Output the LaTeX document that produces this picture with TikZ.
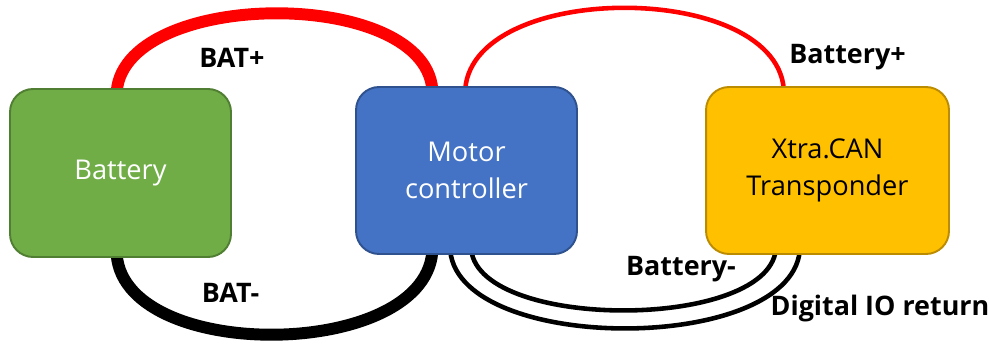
\documentclass[tikz,border=0pt]{standalone}
\usepackage{fontspec}
\setmainfont{Open Sans}
\usepackage{tikz}
\usetikzlibrary{positioning, calc}
\usepackage{xcolor}
\definecolor{batgreen}{RGB}{112,173,71}
\definecolor{batgreenline}{RGB}{80,126,50}
\definecolor{mcblue}{RGB}{68,114,196}
\definecolor{mcblueline}{RGB}{47,82,143}
\definecolor{xcgold}{RGB}{255,192,0}
\definecolor{xcgoldline}{RGB}{188,140,0}
\definecolor{wirered}{RGB}{255,0,0}
\pgfdeclarelayer{bg}
\pgfsetlayers{bg,main}

\begin{document}
\begin{tikzpicture}[x=0.02cm, y=-0.02cm,
  box/.style={draw, line width=1.1pt, rounded corners=0.46cm, minimum height=3.34cm,
    align=center, font=\fontsize{15.5}{21.5}\selectfont},
  wirelabel/.style={font=\bfseries\fontsize{15.3}{18}\selectfont, anchor=base},
  thickwire/.style={line width=6.8pt},
  thinwire/.style={line width=2.6pt}]
  \useasboundingbox (0,0) rectangle (989,344);
  % boxes
  \node[box, fill=batgreen, draw=batgreenline, text=white, minimum width=4.42cm, minimum height=3.36cm] (bat) at (120.5,173) {Battery};
  \node[box, fill=mcblue, draw=mcblueline, text=white, minimum width=4.42cm] (mc) at (466.5,170.5) {Motor\\controller};
  \node[box, fill=xcgold, draw=xcgoldline, minimum width=4.86cm] (xc) at (827.5,170.5) {Xtra.CAN\\Transponder};
  % wires, behind the boxes
  \begin{pgfonlayer}{bg}
    \draw[thickwire, wirered] ($(bat.north)+(-4,8)$) .. controls +(0,-109) and +(0,-109) .. ($(mc.north)+(-34,8)$);
    \draw[thickwire, black] ($(bat.south)+(-4,-8)$) .. controls +(0,115) and +(0,115) .. ($(mc.south)+(-34,-8)$);
    \draw[thinwire, wirered] ($(mc.north)+(-1.5,8)$) .. controls +(0,-115) and +(0,-115) .. ($(xc.north)+(-43.5,8)$);
    \draw[thinwire, black] ($(mc.south)+(4.5,-9)$) .. controls +(0,86) and +(0,86) .. ($(xc.south)+(-51.5,-9)$);
    \draw[thinwire, black] ($(mc.south)+(-16.5,-9)$) .. controls +(0,110) and +(0,110) .. ($(xc.south)+(-27.5,-9)$);
  \end{pgfonlayer}
  % labels
  \node[wirelabel] (batplus) at (232,68) {BAT+};
  \node[wirelabel] (batminus) at (230.5,302) {BAT-};
  \node[wirelabel] (battplus) at (847.5,64) {Battery+};
  \node[wirelabel] (battminus) at (681,275) {Battery-};
  \node[wirelabel] (dioret) at (880,315) {Digital IO return};
\end{tikzpicture}
\end{document}
